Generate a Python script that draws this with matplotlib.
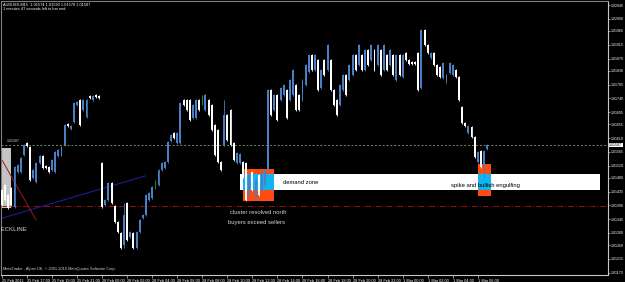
import matplotlib
matplotlib.use("Agg")
from matplotlib import pyplot as plt
from matplotlib.patches import Rectangle

plt.rcParams['font.family'] = ['Liberation Sans', 'DejaVu Sans']

# AUDUSD M15 candles (prices)
opens = [1.01440, 1.01456, 1.01423, 1.01446, 1.01384, 1.01499, 1.01499, 1.01554, 1.01593, 1.01580,
         1.01479, 1.01466, 1.01528, 1.01551, 1.01518, 1.01515, 1.01505, 1.01499, 1.01551, 1.01554,
         1.01587, 1.01656, 1.01639, 1.01662, 1.01718, 1.01734, 1.01701, 1.01678, 1.01747, 1.01734,
         1.01750, 1.01747, 1.01528, 1.01391, 1.01407, 1.01463, 1.01387, 1.01335, 1.01299, 1.01260,
         1.01397, 1.01286, 1.01299, 1.01250, 1.01302, 1.01348, 1.01358, 1.01407, 1.01414, 1.01456,
         1.01456, 1.01505, 1.01512, 1.01531, 1.01600, 1.01626, 1.01593, 1.01593, 1.01734, 1.01734,
         1.01734, 1.01675, 1.01675, 1.01734, 1.01734, 1.01701, 1.01734, 1.01718, 1.01652, 1.01636,
         1.01531, 1.01587, 1.01685, 1.01701, 1.01593, 1.01528, 1.01528, 1.01531, 1.01528, 1.01423,
         1.01499, 1.01414, 1.01489, 1.01440, 1.01456, 1.01505, 1.01767, 1.01701, 1.01750, 1.01734,
         1.01750, 1.01767, 1.01734, 1.01750, 1.01783, 1.01750, 1.01734, 1.01783, 1.01826, 1.01881,
         1.01832, 1.01865, 1.01773, 1.01865, 1.01832, 1.01865, 1.01767, 1.01734, 1.01718, 1.01767,
         1.01816, 1.01799, 1.01816, 1.01881, 1.01848, 1.01881, 1.01832, 1.01897, 1.01865, 1.01897,
         1.01848, 1.01897, 1.01832, 1.01881, 1.01848, 1.01881, 1.01799, 1.01881, 1.01809, 1.01888,
         1.01865, 1.01858, 1.01858, 1.01888, 1.01773, 1.01963, 1.01914, 1.01871, 1.01888, 1.01848,
         1.01842, 1.01806, 1.01793, 1.01822, 1.01816, 1.01832, 1.01809, 1.01711, 1.01659, 1.01626,
         1.01646, 1.01613, 1.01531, 1.01567, 1.01521, 1.01574]
highs = [1.01443, 1.01459, 1.01427, 1.01450, 1.01518, 1.01525, 1.01548, 1.01590, 1.01597, 1.01584,
         1.01508, 1.01531, 1.01554, 1.01554, 1.01521, 1.01518, 1.01541, 1.01567, 1.01574, 1.01584,
         1.01656, 1.01659, 1.01652, 1.01727, 1.01731, 1.01737, 1.01737, 1.01737, 1.01750, 1.01750,
         1.01754, 1.01750, 1.01531, 1.01410, 1.01466, 1.01466, 1.01391, 1.01338, 1.01302, 1.01397,
         1.01400, 1.01306, 1.01302, 1.01306, 1.01345, 1.01361, 1.01427, 1.01433, 1.01453, 1.01472,
         1.01508, 1.01531, 1.01535, 1.01600, 1.01623, 1.01629, 1.01629, 1.01727, 1.01737, 1.01737,
         1.01737, 1.01721, 1.01737, 1.01737, 1.01750, 1.01754, 1.01737, 1.01721, 1.01656, 1.01639,
         1.01535, 1.01734, 1.01688, 1.01705, 1.01597, 1.01564, 1.01561, 1.01535, 1.01531, 1.01492,
         1.01502, 1.01476, 1.01492, 1.01502, 1.01508, 1.01770, 1.01770, 1.01754, 1.01754, 1.01777,
         1.01786, 1.01770, 1.01803, 1.01835, 1.01786, 1.01754, 1.01803, 1.01852, 1.01884, 1.01884,
         1.01884, 1.01868, 1.01835, 1.01868, 1.01917, 1.01868, 1.01770, 1.01737, 1.01786, 1.01819,
         1.01819, 1.01852, 1.01884, 1.01884, 1.01917, 1.01884, 1.01901, 1.01901, 1.01917, 1.01901,
         1.01917, 1.01901, 1.01917, 1.01884, 1.01901, 1.01884, 1.01884, 1.01884, 1.01884, 1.01891,
         1.01868, 1.01862, 1.01862, 1.01891, 1.01966, 1.01966, 1.01917, 1.01891, 1.01891, 1.01852,
         1.01845, 1.01858, 1.01819, 1.01858, 1.01852, 1.01835, 1.01812, 1.01714, 1.01662, 1.01652,
         1.01649, 1.01616, 1.01567, 1.01570, 1.01570, 1.01590]
lows = [1.01387, 1.01404, 1.01378, 1.01387, 1.01381, 1.01495, 1.01495, 1.01551, 1.01580, 1.01469,
        1.01476, 1.01463, 1.01525, 1.01508, 1.01508, 1.01495, 1.01502, 1.01495, 1.01548, 1.01551,
        1.01584, 1.01646, 1.01636, 1.01659, 1.01714, 1.01649, 1.01698, 1.01675, 1.01737, 1.01731,
        1.01741, 1.01737, 1.01381, 1.01387, 1.01404, 1.01394, 1.01332, 1.01299, 1.01247, 1.01250,
        1.01273, 1.01283, 1.01247, 1.01247, 1.01299, 1.01345, 1.01355, 1.01404, 1.01410, 1.01443,
        1.01453, 1.01502, 1.01508, 1.01528, 1.01597, 1.01606, 1.01590, 1.01590, 1.01714, 1.01698,
        1.01665, 1.01672, 1.01672, 1.01698, 1.01718, 1.01698, 1.01682, 1.01633, 1.01551, 1.01528,
        1.01502, 1.01584, 1.01600, 1.01584, 1.01535, 1.01525, 1.01525, 1.01479, 1.01404, 1.01420,
        1.01436, 1.01410, 1.01420, 1.01436, 1.01453, 1.01502, 1.01682, 1.01698, 1.01665, 1.01731,
        1.01747, 1.01672, 1.01731, 1.01747, 1.01698, 1.01698, 1.01731, 1.01780, 1.01822, 1.01829,
        1.01829, 1.01763, 1.01770, 1.01812, 1.01829, 1.01763, 1.01714, 1.01682, 1.01714, 1.01763,
        1.01747, 1.01796, 1.01812, 1.01829, 1.01845, 1.01829, 1.01829, 1.01845, 1.01862, 1.01829,
        1.01845, 1.01812, 1.01829, 1.01829, 1.01845, 1.01812, 1.01796, 1.01812, 1.01806, 1.01862,
        1.01848, 1.01848, 1.01848, 1.01763, 1.01770, 1.01911, 1.01884, 1.01868, 1.01845, 1.01812,
        1.01806, 1.01803, 1.01790, 1.01819, 1.01812, 1.01806, 1.01731, 1.01656, 1.01646, 1.01623,
        1.01610, 1.01544, 1.01528, 1.01512, 1.01479, 1.01570]
closes = [1.01391, 1.01407, 1.01381, 1.01391, 1.01515, 1.01521, 1.01544, 1.01587, 1.01584, 1.01472,
          1.01505, 1.01528, 1.01551, 1.01512, 1.01512, 1.01499, 1.01538, 1.01564, 1.01570, 1.01580,
          1.01652, 1.01649, 1.01649, 1.01724, 1.01727, 1.01652, 1.01734, 1.01734, 1.01741, 1.01747,
          1.01744, 1.01741, 1.01384, 1.01407, 1.01463, 1.01397, 1.01335, 1.01302, 1.01250, 1.01358,
          1.01276, 1.01302, 1.01250, 1.01302, 1.01342, 1.01358, 1.01423, 1.01430, 1.01450, 1.01456,
          1.01505, 1.01528, 1.01531, 1.01597, 1.01620, 1.01610, 1.01626, 1.01724, 1.01718, 1.01701,
          1.01669, 1.01718, 1.01734, 1.01701, 1.01734, 1.01750, 1.01685, 1.01636, 1.01554, 1.01531,
          1.01505, 1.01685, 1.01603, 1.01587, 1.01538, 1.01561, 1.01557, 1.01482, 1.01407, 1.01489,
          1.01440, 1.01472, 1.01423, 1.01499, 1.01505, 1.01767, 1.01685, 1.01750, 1.01669, 1.01773,
          1.01783, 1.01675, 1.01799, 1.01832, 1.01701, 1.01701, 1.01799, 1.01848, 1.01881, 1.01832,
          1.01881, 1.01767, 1.01832, 1.01816, 1.01914, 1.01767, 1.01718, 1.01685, 1.01783, 1.01816,
          1.01750, 1.01848, 1.01881, 1.01832, 1.01914, 1.01832, 1.01897, 1.01848, 1.01914, 1.01832,
          1.01914, 1.01816, 1.01914, 1.01832, 1.01897, 1.01816, 1.01881, 1.01816, 1.01881, 1.01865,
          1.01852, 1.01852, 1.01852, 1.01767, 1.01963, 1.01914, 1.01888, 1.01888, 1.01848, 1.01816,
          1.01809, 1.01855, 1.01816, 1.01855, 1.01848, 1.01809, 1.01734, 1.01659, 1.01649, 1.01649,
          1.01613, 1.01548, 1.01564, 1.01515, 1.01567, 1.01587]

# time axis labels (every 8 bars = 2 hours)
time_labels = ["25 Feb 2011", "25 Feb 17:00", "25 Feb 19:00", "25 Feb 21:00", "28 Feb 00:00",
               "28 Feb 02:00", "28 Feb 04:00", "28 Feb 06:00", "28 Feb 08:00", "28 Feb 10:00",
               "28 Feb 12:00", "28 Feb 14:00", "28 Feb 16:00", "28 Feb 18:00", "28 Feb 20:00",
               "28 Feb 22:00", "1 Mar 00:00", "1 Mar 02:00", "1 Mar 04:00", "1 Mar 06:00"]
price_ticks = [1.02045, 1.02000, 1.01960, 1.01915, 1.01870, 1.01830, 1.01785, 1.01740, 1.01695,
               1.01655, 1.01610, 1.01565, 1.01520, 1.01480, 1.01435, 1.01390, 1.01345, 1.01300,
               1.01260, 1.01215, 1.01170]

bid_price = 1.01587
support_price = 1.01387
demand_zone = (76.0, 191.1, 1.01440, 1.01492)      # bar from, bar to, price low, price high
orange_boxes = [(77.0, 86.9, 1.01404, 1.01509), (152.1, 156.2, 1.01420, 1.01525)]
grey_box = (-0.3, 2.9, 1.01381, 1.01577)
trend_line = ([0, 45.7], [1.01348, 1.01486])
neck_line = ([0, 10.9], [1.01538, 1.01342])

BLUE = "#4a7fc6"
fig = plt.figure(figsize=(6.25, 2.82), dpi=100, facecolor="black")
ax = fig.add_axes([1 / 625, 7 / 282, 607 / 625, 274 / 282], facecolor="black")

# background objects
ax.add_patch(Rectangle((grey_box[0], grey_box[2]), grey_box[1] - grey_box[0],
                       grey_box[3] - grey_box[2], color="#c4c4c4", lw=0, zorder=1))
x0, x1, y0, y1 = demand_zone
ax.add_patch(Rectangle((x0, y0), x1 - x0, y1 - y0, color="white", lw=0, zorder=1))
for bx0, bx1, by0, by1 in orange_boxes:
    ax.add_patch(Rectangle((bx0, by0), bx1 - bx0, by1 - by0, color="#ff4a12", lw=0, zorder=1.1))
    ax.add_patch(Rectangle((bx0, y0), bx1 - bx0, y1 - y0, color="#12b4f0", lw=0, zorder=1.2))

ax.axhline(bid_price, color="#6e8c6e", lw=0.7, ls=(0, (2, 2)), zorder=2)
ax.axhline(support_price, color="#9a1010", lw=0.7, ls=(0, (6, 2, 1, 2)), zorder=2)
ax.plot(*trend_line, color="#1c1c90", lw=0.8, zorder=2)
ax.plot(*neck_line, color="#a01818", lw=0.7, zorder=2)

# candles
n = len(opens)
xs = list(range(n))
cols = []
for o, c in zip(opens, closes):
    if c > o:
        cols.append(BLUE)
    elif c < o:
        cols.append("white")
    else:
        cols.append("#2e9a2e")
ax.vlines(xs, lows, highs, colors=cols, lw=0.6, zorder=3)
ax.bar(xs, [abs(c - o) for o, c in zip(opens, closes)],
       bottom=[min(o, c) for o, c in zip(opens, closes)],
       width=0.62, color=cols, lw=0, zorder=3)

# texts
ax.text(89.8, 1.01463, "demand zone", color="black", fontsize=4.2, va="center", zorder=4)
ax.text(143.4, 1.01456, "spike and bullish engulfing", color="black", fontsize=4.2,
        va="center", zorder=4)
ax.text(72.8, 1.01365, "cluster resolved north", color="#d8d8d8", fontsize=4.2, va="center")
ax.text(72.2, 1.01335, "buyers exceed sellers", color="#d8d8d8", fontsize=4.2, va="center")
ax.text(-1.9, 1.01310, "NECKLINE", color="#d8d8d8", fontsize=4.4, va="center", clip_on=True)
ax.text(1.5, 1.01594, "1.01587", color="#cfcfcf", fontsize=2.6, va="bottom")

fig.text(3 / 625, 1 - 4.5 / 282, "AUDUSD,M15  1.01574 1.01590 1.01570 1.01587",
         color="white", fontsize=2.8, va="center")
fig.text(3 / 625, 1 - 8.5 / 282, "1 minutes 47 seconds left to bar end",
         color="white", fontsize=2.8, va="center")
ax.text(0.3, 1.01181, "MetaTrader - Alpari UK, \u00a9 2001-2010 MetaQuotes Software Corp.",
        color="#d0d0d0", fontsize=2.8, va="center")

# axes
ax.set_xlim(-0.32, 193.6)
ax.set_ylim(1.011621, 1.020581)
for side in ["left", "top"]:
    ax.spines[side].set_color("#808080")
    ax.spines[side].set_linewidth(0.8)
for side in ["right", "bottom"]:
    ax.spines[side].set_color("#c8c8c8")
    ax.spines[side].set_linewidth(0.8)

ax.yaxis.tick_right()
ax.set_yticks(price_ticks)
ax.set_yticklabels(["%.5f" % p for p in price_ticks])
ax.tick_params(axis="y", colors="#c8c8c8", labelcolor="white", labelsize=2.5,
               length=1.2, width=0.5, pad=1.0)
ax.set_xticks([8 * k for k in range(len(time_labels))])
ax.set_xticklabels(time_labels, ha="left")
ax.tick_params(axis="x", colors="#c8c8c8", labelcolor="white", labelsize=2.8,
               length=2, width=0.5, pad=0.8)
ax.text(1.002, bid_price, "%.5f" % bid_price, transform=ax.get_yaxis_transform(),
        fontsize=2.5, color="black", va="center", ha="left",
        bbox=dict(boxstyle="square,pad=0.1", fc="white", ec="none"), clip_on=False)

fig.savefig("out.png", dpi=100, facecolor="black")
